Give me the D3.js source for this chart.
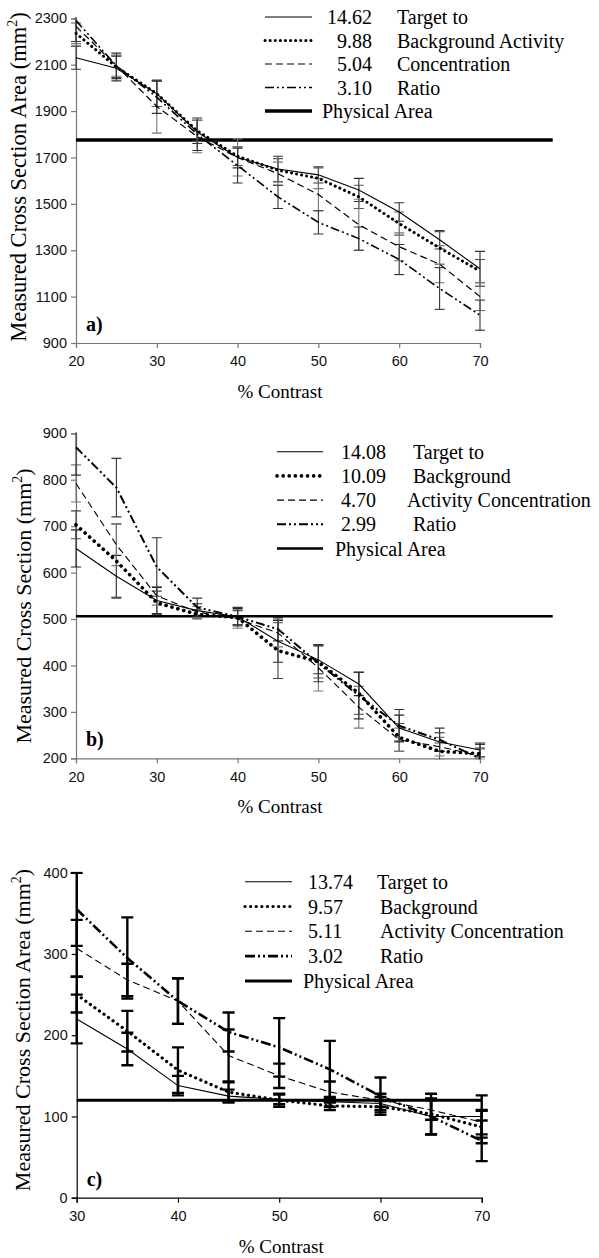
<!DOCTYPE html>
<html><head><meta charset="utf-8">
<script src="https://cdn.jsdelivr.net/npm/d3@7"></script>
<style>body{margin:0;background:#fff}svg{display:block}</style>
</head><body>
<svg id="chart" width="599" height="1258"></svg>
<script>
// ---------- DATA ----------
const contrastAB = [20, 25, 30, 35, 40, 45, 50, 55, 60, 65, 70];
const contrastC = [30, 35, 40, 45, 50, 55, 60, 65, 70];

// Panel a
const aTicksY = [900, 1100, 1300, 1500, 1700, 1900, 2100, 2300];
const aTicksX = [20, 30, 40, 50, 60, 70];
const aLegendNums = ["14.62", "9.88", "5.04", "3.10"];
const aLegendText = ["Target to", "Background Activity", "Concentration", "Ratio"];
const aTarget = [2130, 2085, 1975, 1810, 1700, 1650, 1625, 1560, 1465, 1345, 1220];
const aTargetErr = [50, 55, 55, 50, 45, 55, 35, 50, 40, 40, 75];
const aBackground = [2235, 2090, 1975, 1815, 1705, 1645, 1610, 1530, 1415, 1310, 1210];
const aBackgroundErr = [45, 45, 55, 45, 40, 50, 45, 50, 50, 70, 50];
const aConcentration = [2265, 2095, 1920, 1790, 1700, 1630, 1540, 1410, 1315, 1240, 1100];
const aConcentrationErr = [65, 45, 115, 70, 80, 50, 70, 110, 60, 80, 60];
const aRatio = [2290, 2095, 1960, 1800, 1665, 1530, 1420, 1350, 1260, 1135, 1020];
const aRatioErr = [90, 55, 70, 70, 75, 50, 50, 50, 65, 90, 65];
const aPhysical = 1775;
const aPhysicalEnd = 79;

// Panel b
const bTicksY = [200, 300, 400, 500, 600, 700, 800, 900];
const bTicksX = [20, 30, 40, 50, 60, 70];
const bLegendNums = ["14.08", "10.09", "4.70", "2.99"];
const bLegendText = ["Target to", "Background", "Activity Concentration", "Ratio"];
const bTarget = [652, 592, 540, 518, 505, 452, 412, 360, 265, 235, 218];
const bTargetErr = [40, 45, 28, 15, 18, 45, 30, 25, 28, 20, 15];
const bBackground = [703, 625, 535, 510, 503, 432, 408, 340, 245, 215, 210];
const bBackgroundErr = [30, 80, 25, 10, 15, 60, 35, 45, 30, 18, 12];
const bConcentration = [792, 660, 550, 515, 500, 470, 395, 310, 240, 225, 205];
const bConcentrationErr = [40, 45, 20, 12, 20, 30, 50, 45, 25, 20, 15];
const bRatio = [870, 783, 612, 525, 505, 478, 405, 335, 270, 240, 200];
const bRatioErr = [60, 63, 63, 20, 20, 25, 40, 50, 35, 25, 30];
const bPhysical = 506;
const bPhysicalEnd = 79;

// Panel c
const cTicksY = [0, 100, 200, 300, 400];
const cTicksX = [30, 40, 50, 60, 70];
const cLegendNums = ["13.74", "9.57", "5.11", "3.02"];
const cLegendText = ["Target to", "Background", "Activity Concentration", "Ratio"];
const cTarget = [220, 183, 138, 125, 121, 118, 116, 100, 100];
const cTargetErr = [30, 20, 12, 8, 6, 6, 8, 22, 26];
const cBackground = [250, 205, 157, 130, 120, 113, 112, 103, 87];
const cBackgroundErr = [22, 25, 28, 12, 8, 5, 7, 25, 20];
const cConcentration = [307, 268, 242, 175, 150, 130, 120, 108, 93];
const cConcentrationErr = [35, 20, 28, 32, 15, 13, 8, 12, 15];
const cRatio = [355, 295, 242, 204, 185, 158, 125, 100, 70];
const cRatioErr = [45, 50, 28, 24, 36, 35, 23, 22, 25];
const cPhysical = 120;
const cPhysicalEnd = 70;

// ---------- DRAW ----------
const svg = d3.select("#chart");
const SERIF = "'Liberation Serif','Times New Roman',serif";
const SANS = "'Liberation Sans',Arial,sans-serif";

function drawPanel(cfg) {
  const g = svg.append("g");
  const x = d3.scaleLinear().domain(cfg.xDomain).range(cfg.xRange);
  const y = d3.scaleLinear().domain(cfg.yDomain).range(cfg.yRange);
  const clipId = "clip" + cfg.id;
  svg.append("clipPath").attr("id", clipId).append("rect")
    .attr("x", cfg.xRange[0] - 10).attr("width", cfg.xRange[1] - cfg.xRange[0] + 20)
    .attr("y", cfg.yRange[1] - 1).attr("height", cfg.yRange[0] - cfg.yRange[1] + 2);

  const yAxis = d3.axisLeft(y).tickValues(cfg.yTicks).tickSize(5).tickPadding(4).tickFormat(d3.format("d"));
  const xAxis = d3.axisBottom(x).tickValues(cfg.xTicks).tickSize(5).tickPadding(8).tickFormat(d3.format("d"));
  const ya = g.append("g").attr("transform", `translate(${cfg.xRange[0]},0)`).call(yAxis);
  const xa = g.append("g").attr("transform", `translate(0,${cfg.yRange[0]})`).call(xAxis);
  [ya, xa].forEach(a => {
    a.selectAll("path,line").attr("stroke", cfg.axisColor).attr("stroke-width", 1.2);
    a.selectAll("text").attr("font-family", SANS).attr("font-size", 14.5).attr("fill", "#111");
  });

  const styles = cfg.styles;
  const series = cfg.series;

  g.append("line")
    .attr("x1", x(cfg.xDomain[0])).attr("x2", x(cfg.physEnd))
    .attr("y1", y(cfg.physical)).attr("y2", y(cfg.physical))
    .attr("stroke", "#000").attr("stroke-width", cfg.physWidth);

  const eg = g.append("g").attr("clip-path", `url(#${clipId})`);
  series.forEach((s, si) => {
    s.vals.forEach((v, i) => {
      const cx = x(cfg.xs[i]);
      const e = s.err[i];
      const y1 = y(v - e), y2 = y(v + e);
      const col = cfg.errColors[si];
      eg.append("line").attr("x1", cx).attr("x2", cx).attr("y1", y1).attr("y2", y2)
        .attr("stroke", col).attr("stroke-width", cfg.errWidth);
      [y1, y2].forEach(yy => eg.append("line")
        .attr("x1", cx - cfg.capW).attr("x2", cx + cfg.capW).attr("y1", yy).attr("y2", yy)
        .attr("stroke", col).attr("stroke-width", cfg.errWidth));
    });
  });

  const line = d3.line().x((d, i) => x(cfg.xs[i])).y(d => y(d));
  series.forEach((s, si) => {
    const st = styles[si];
    g.append("path").datum(s.vals).attr("d", line)
      .attr("fill", "none").attr("stroke", "#000")
      .attr("stroke-width", st.w).attr("stroke-dasharray", st.dash)
      .attr("stroke-linecap", st.cap || "butt");
  });

  const L = cfg.legend;
  const FS = 20;
  for (let i = 0; i < 5; i++) {
    const ly = L.y0 + i * L.dy;
    const st = i < 4 ? styles[i] : { w: cfg.physWidth, dash: null };
    g.append("line").attr("x1", L.x1).attr("x2", L.x2).attr("y1", ly).attr("y2", ly)
      .attr("stroke", "#000").attr("stroke-width", st.w)
      .attr("stroke-dasharray", st.dash).attr("stroke-linecap", st.cap || "butt");
    if (i < 4) {
      g.append("text").attr("x", L.numX).attr("y", ly).attr("dy", "0.35em")
        .attr("text-anchor", L.numAnchor).attr("font-family", SERIF).attr("font-size", FS)
        .text(cfg.legendNums[i]);
      g.append("text").attr("x", L.textX[i]).attr("y", ly).attr("dy", "0.35em")
        .attr("font-family", SERIF).attr("font-size", FS).text(cfg.legendText[i]);
    } else {
      g.append("text").attr("x", L.physX).attr("y", ly).attr("dy", "0.35em")
        .attr("font-family", SERIF).attr("font-size", FS).text("Physical Area");
    }
  }

  g.append("text").attr("x", (cfg.xRange[0] + cfg.xRange[1]) / 2 + 2).attr("y", cfg.yRange[0] + 55)
    .attr("text-anchor", "middle").attr("font-family", SERIF).attr("font-size", 19)
    .text("% Contrast");
  const yt = g.append("text")
    .attr("transform", `translate(${cfg.yTitleX},${cfg.yTitleY}) rotate(-90)`)
    .attr("text-anchor", "middle").attr("font-family", SERIF).attr("font-size", cfg.yTitleSize);
  yt.append("tspan").text(cfg.yTitle + " (mm");
  yt.append("tspan").attr("font-size", 14).attr("dy", -9).text("2");
  yt.append("tspan").attr("dy", 9).text(")");
  g.append("text").attr("x", cfg.xRange[0] + 10).attr("y", cfg.yRange[0] - 12)
    .attr("font-family", SERIF).attr("font-size", 20).attr("font-weight", "bold").text(cfg.label);
}

const mkSeries = (v, e) => v.map((vals, i) => ({ vals, err: e[i] }));

drawPanel({
  id: "a", label: "a)", xs: contrastAB, xDomain: [20, 70], xRange: [76, 480],
  yDomain: [900, 2300], yRange: [343, 18.3], yTicks: aTicksY, xTicks: aTicksX,
  axisColor: "#777",
  series: mkSeries([aTarget, aBackground, aConcentration, aRatio], [aTargetErr, aBackgroundErr, aConcentrationErr, aRatioErr]),
  styles: [{ w: 1.1, dash: null }, { w: 3, dash: "0.1 5", cap: "round" }, { w: 1.2, dash: "7 4" }, { w: 1.6, dash: "9 3 2 3 2 3" }],
  errColors: ["#333", "#555", "#777", "#333"], errWidth: 1.1, capW: 5,
  physical: aPhysical, physEnd: aPhysicalEnd, physWidth: 3.5,
  legend: { x1: 265, x2: 312, y0: 17, dy: 23.5, numX: 372, numAnchor: "end", textX: [397, 397, 397, 397], physX: 322 },
  legendNums: aLegendNums, legendText: aLegendText,
  yTitle: "Measured Cross Section Area", yTitleX: 26, yTitleY: 177, yTitleSize: 22.5
});

drawPanel({
  id: "b", label: "b)", xs: contrastAB, xDomain: [20, 70], xRange: [76, 480],
  yDomain: [200, 900], yRange: [758.3, 433.3], yTicks: bTicksY, xTicks: bTicksX,
  axisColor: "#777",
  series: mkSeries([bTarget, bBackground, bConcentration, bRatio], [bTargetErr, bBackgroundErr, bConcentrationErr, bRatioErr]),
  styles: [{ w: 1.1, dash: null }, { w: 3.6, dash: "0.1 6", cap: "round" }, { w: 1.1, dash: "7 4" }, { w: 2, dash: "9 3 2 3 2 3" }],
  errColors: ["#222", "#444", "#777", "#333"], errWidth: 1.1, capW: 5,
  physical: bPhysical, physEnd: bPhysicalEnd, physWidth: 2.6,
  legend: { x1: 277, x2: 323, y0: 451.7, dy: 24.2, numX: 341, numAnchor: "start", textX: [413, 413, 407, 413], physX: 335 },
  legendNums: bLegendNums, legendText: bLegendText,
  yTitle: "Measured Cross Section", yTitleX: 31, yTitleY: 606, yTitleSize: 22
});

drawPanel({
  id: "c", label: "c)", xs: contrastC, xDomain: [30, 70], xRange: [76.7, 481.7],
  yDomain: [0, 400], yRange: [1197.7, 872.7], yTicks: cTicksY, xTicks: cTicksX,
  axisColor: "#000",
  series: mkSeries([cTarget, cBackground, cConcentration, cRatio], [cTargetErr, cBackgroundErr, cConcentrationErr, cRatioErr]),
  styles: [{ w: 1.1, dash: null }, { w: 3.2, dash: "0.1 5.5", cap: "round" }, { w: 1.1, dash: "7 4" }, { w: 2.6, dash: "10 3 2 3 2 3" }],
  errColors: ["#000", "#000", "#000", "#000"], errWidth: 2.4, capW: 6,
  physical: cPhysical, physEnd: cPhysicalEnd, physWidth: 3,
  legend: { x1: 245, x2: 292, y0: 881.7, dy: 24.8, numX: 308, numAnchor: "start", textX: [377, 380, 380, 380], physX: 303 },
  legendNums: cLegendNums, legendText: cLegendText,
  yTitle: "Measured Cross Section Area", yTitleX: 30, yTitleY: 1030, yTitleSize: 22
});
</script>
</body></html>
